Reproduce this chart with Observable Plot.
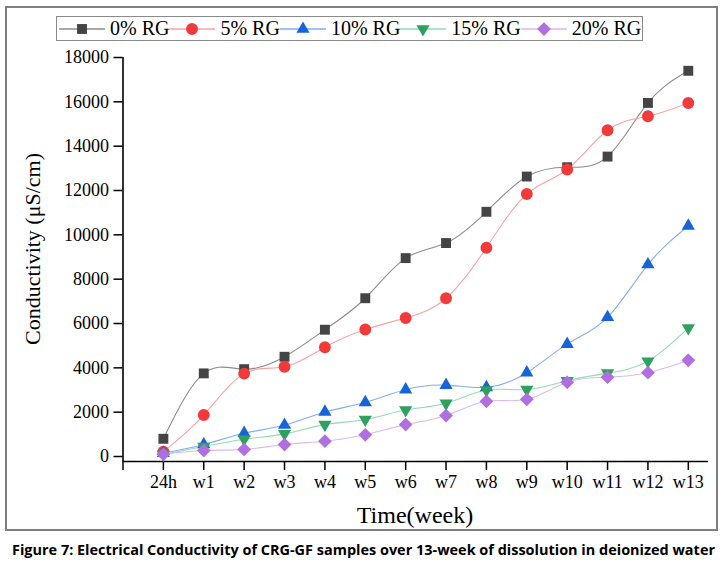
<!DOCTYPE html>
<html><head><meta charset="utf-8">
<script src="https://cdn.jsdelivr.net/npm/d3@7"></script>
<script src="https://cdn.jsdelivr.net/npm/@observablehq/plot@0.6"></script>
<style>
body{margin:0;background:#fff;}
#wrap{position:relative;width:724px;height:566px;overflow:hidden;background:#fff;}
#frame{position:absolute;left:5px;top:6px;width:713px;height:525px;border:2px solid #7f7f7f;box-sizing:border-box;}
#chart{position:absolute;left:0;top:0;}
#legend{position:absolute;left:56px;top:16px;width:587px;height:25px;border:1px solid #8a8a8a;box-sizing:border-box;display:flex;align-items:center;font-family:"Liberation Serif","Times New Roman",serif;font-size:20px;color:#000;background:#fff;}
#legend .item{display:flex;align-items:center;}
#legend svg{display:block;}
#legend span{margin-left:5px;white-space:nowrap;}
#ytitle{position:absolute;left:33px;top:249px;transform:translate(-50%,-50%) rotate(-90deg);font-family:"Liberation Serif","Times New Roman",serif;font-size:22px;white-space:nowrap;color:#000;}
#xtitle{position:absolute;left:415px;top:515px;transform:translate(-50%,-50%);font-family:"Liberation Serif","Times New Roman",serif;font-size:24px;white-space:nowrap;color:#000;}
#caption{position:absolute;left:0;top:536px;}
</style>
</head><body>
<div id="wrap">
  <div id="frame"></div>
  <div id="chart"></div>
  <div id="legend"></div>
  <div id="ytitle">Conductivity (μS/cm)</div>
  <div id="xtitle">Time(week)</div>
  <svg id="caption" width="724" height="28"><text x="12" y="19" textLength="703" lengthAdjust="spacingAndGlyphs" font-family="Open Sans, sans-serif" font-weight="700" font-size="14.5" fill="#000">Figure 7: Electrical Conductivity of CRG-GF samples over 13-week of dissolution in deionized water</text></svg>
</div>
<script>
// ---- data ----
const categories = ["24h","w1","w2","w3","w4","w5","w6","w7","w8","w9","w10","w11","w12","w13"];
const seriesNames = ["0% RG","5% RG","10% RG","15% RG","20% RG"];
const rg0  = [800, 3750, 3940, 4500, 5720, 7140, 8950, 9630, 11040, 12630, 13050, 13530, 15950, 17400];
const rg5  = [220, 1870, 3740, 4050, 4930, 5730, 6250, 7140, 9420, 11840, 12950, 14720, 15350, 15950];
const rg10 = [150, 540, 1050, 1420, 2010, 2440, 3020, 3220, 3120, 3780, 5070, 6280, 8660, 10400];
const rg15 = [100, 450, 780, 1020, 1440, 1670, 2100, 2400, 3000, 3020, 3420, 3760, 4300, 5800];
const rg20 = [100, 270, 320, 540, 690, 980, 1440, 1850, 2490, 2580, 3350, 3580, 3780, 4340];
const yTicks = [0,2000,4000,6000,8000,10000,12000,14000,16000,18000];

// ---- symbols ----
const rad = s => Math.sqrt(s/Math.PI);
const symSquare = {draw(c,s){const h=rad(s)*0.9; c.moveTo(-h,-h);c.lineTo(h,-h);c.lineTo(h,h);c.lineTo(-h,h);c.closePath();}};
const symCircle = {draw(c,s){const R=rad(s)*1.08; c.moveTo(R,0); c.arc(0,0,R,0,2*Math.PI); c.closePath();}};
const symTriUp = {draw(c,s){const w=rad(s)*1.2, h=w*1.732; c.moveTo(0,-h*2/3);c.lineTo(w,h/3);c.lineTo(-w,h/3);c.closePath();}};
const symTriDown = {draw(c,s){const w=rad(s)*1.2, h=w*1.732; c.moveTo(0,h*2/3);c.lineTo(w,-h/3);c.lineTo(-w,-h/3);c.closePath();}};
const symDiamond = {draw(c,s){const d=rad(s)*1.25; c.moveTo(0,-d);c.lineTo(d,0);c.lineTo(0,d);c.lineTo(-d,0);c.closePath();}};

const styles = [
  {values: rg0,  symbol: symSquare,  fill:"#444444", line:"#8c8c8c"},
  {values: rg5,  symbol: symCircle,  fill:"#f23a3a", line:"#f7a3a3"},
  {values: rg10, symbol: symTriUp,   fill:"#1565d8", line:"#82aef0"},
  {values: rg15, symbol: symTriDown, fill:"#2ea060", line:"#94dab2"},
  {values: rg20, symbol: symDiamond, fill:"#b06ee0", line:"#d8baf3"}
];

const data = [];
styles.forEach((st, k) => st.values.forEach((v, i) => data.push({series: seriesNames[k], i, v})));

const serif = "Liberation Serif, Times New Roman, serif";
const marks = [];
styles.forEach((st, k) => {
  const d = data.filter(r => r.series === seriesNames[k]);
  marks.push(Plot.line(d, {x:"i", y:"v", stroke: st.line, strokeWidth: 1.1, curve: "natural"}));
});
styles.forEach((st, k) => {
  const d = data.filter(r => r.series === seriesNames[k]);
  marks.push(Plot.dot(d, {x:"i", y:"v", symbol: st.symbol, r: 5.5, fill: st.fill, stroke: "none"}));
});

const chart = Plot.plot({
  width: 724,
  height: 530,
  marginLeft: 122.5,
  marginRight: 16,
  marginTop: 57,
  marginBottom: 69,
  style: {fontFamily: serif, fontSize: "18px", color: "#000", background: "transparent"},
  x: {type: "linear", domain: [-1, 13.5], axis: null},
  y: {domain: [-225, 18000], axis: null},
  marks: [
    Plot.axisX(d3.range(-1, 14), {label: null, tickSize: 9, tickPadding: 5, tickFormat: i => i < 0 ? "" : categories[i], strokeWidth: 1.5, fontSize: 18, fontFamily: serif, fill: "#000"}),
    Plot.axisY(yTicks, {label: null, tickSize: 9, tickPadding: 5, tickFormat: d => String(d), strokeWidth: 1.5, fontSize: 18, fontFamily: serif, fill: "#000"}),
    Plot.ruleX([-1], {y1: -225, y2: 18000, stroke: "#000", strokeWidth: 1.6}),
    Plot.ruleY([-225], {x1: -1, x2: 13.5, stroke: "#000", strokeWidth: 1.6}),
    ...marks
  ]
});
document.getElementById("chart").appendChild(chart);

// ---- legend ----
const legend = document.getElementById("legend");
const ns = "http://www.w3.org/2000/svg";
styles.forEach((st, k) => {
  const item = document.createElement("div");
  item.className = "item";
  const svg = document.createElementNS(ns, "svg");
  svg.setAttribute("width", 46); svg.setAttribute("height", 22);
  const ln = document.createElementNS(ns, "line");
  ln.setAttribute("x1", 0); ln.setAttribute("x2", 46); ln.setAttribute("y1", 11); ln.setAttribute("y2", 11);
  ln.setAttribute("stroke", st.line); ln.setAttribute("stroke-width", 1.3);
  svg.appendChild(ln);
  const p = d3.path();
  st.symbol.draw(p, Math.PI * 5.5 * 5.5);
  const path = document.createElementNS(ns, "path");
  path.setAttribute("d", p.toString());
  path.setAttribute("transform", "translate(23,11)");
  path.setAttribute("fill", st.fill);
  svg.appendChild(path);
  item.appendChild(svg);
  const sp = document.createElement("span");
  sp.textContent = seriesNames[k];
  item.appendChild(sp);
  legend.appendChild(item);
});
legend.firstChild.style.marginLeft = "2px";
</script>
</body></html>
